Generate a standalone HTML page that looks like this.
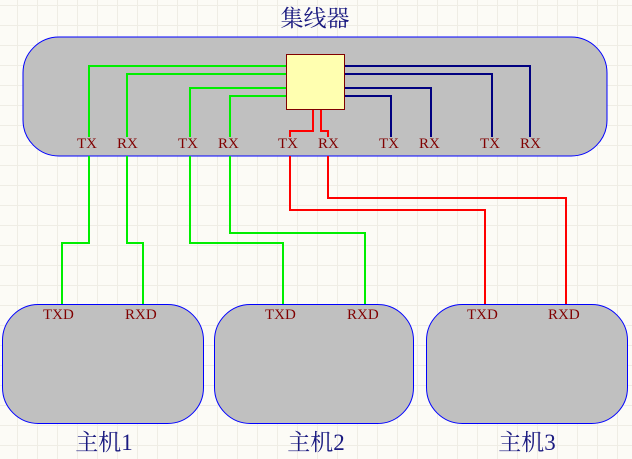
<!DOCTYPE html>
<html><head><meta charset="utf-8"><style>
body{margin:0;width:632px;height:459px;overflow:hidden;background:#fcfbf6;
background-image:linear-gradient(#efede5 1px,transparent 1px),linear-gradient(90deg,#efede5 1px,transparent 1px);background-size:20px 20px;background-position:-3px 5px}
</style></head><body>
<svg width="632" height="459" xmlns="http://www.w3.org/2000/svg" style="position:absolute;left:0;top:0">
<text x="315" y="26" font-family="Liberation Serif,Noto Serif CJK SC,serif" font-size="23" fill="#1a1a80" text-anchor="middle">集线器</text>
<rect x="23" y="37" width="584" height="119" rx="36" fill="#c0c0c0" stroke="#0000ff" stroke-width="1"/>
<g fill="none" stroke-width="2">
<g stroke="#00ee00">
<polyline points="286,66 89,66 89,137"/>
<polyline points="286,74 127,74 127,137"/>
<polyline points="286,88 190,88 190,137"/>
<polyline points="286,96 230,96 230,137"/>
<polyline points="89,156 89,243 62,243 62,305"/>
<polyline points="127,156 127,243 143,243 143,305"/>
<polyline points="190,156 190,243 283,243 283,305"/>
<polyline points="230,156 230,233 365,233 365,305"/>
</g>
<g stroke="#000080">
<polyline points="344,66 530,66 530,137"/>
<polyline points="344,74 492,74 492,137"/>
<polyline points="344,88 431,88 431,137"/>
<polyline points="344,96 391,96 391,137"/>
</g>
<g stroke="#ff0000">
<polyline points="313,109 313,131 290,131 290,137"/>
<polyline points="321,109 321,131 328,131 328,137"/>
<polyline points="290,156 290,210 485,210 485,305"/>
<polyline points="328,156 328,198 566,198 566,305"/>
</g>
</g>
<rect x="286.5" y="54.5" width="58" height="55" fill="#ffffb0" stroke="#800000" stroke-width="1"/>
<g font-family="Liberation Serif,serif" font-size="15" fill="#800000">
<text x="77" y="148">TX</text><text x="117" y="148">RX</text>
<text x="178" y="148">TX</text><text x="218" y="148">RX</text>
<text x="278" y="148">TX</text><text x="318" y="148">RX</text>
<text x="379" y="148">TX</text><text x="419" y="148">RX</text>
<text x="480" y="148">TX</text><text x="520" y="148">RX</text>
</g>
<g fill="#c0c0c0" stroke="#0000ff" stroke-width="1">
<rect x="2.5" y="304.5" width="201" height="119" rx="36"/>
<rect x="214.5" y="304.5" width="199" height="119" rx="36"/>
<rect x="426.5" y="304.5" width="201" height="119" rx="36"/>
</g>
<g font-family="Liberation Serif,serif" font-size="15" fill="#800000">
<text x="43" y="319">TXD</text><text x="125" y="319">RXD</text>
<text x="265" y="319">TXD</text><text x="347" y="319">RXD</text>
<text x="467" y="319">TXD</text><text x="548" y="319">RXD</text>
</g>
<g font-family="Liberation Serif,Noto Serif CJK SC,serif" font-size="23" fill="#1a1a80" text-anchor="middle">
<text x="104" y="450">主机1</text><text x="316" y="450">主机2</text><text x="527" y="450">主机3</text>
</g>
</svg>
</body></html>
